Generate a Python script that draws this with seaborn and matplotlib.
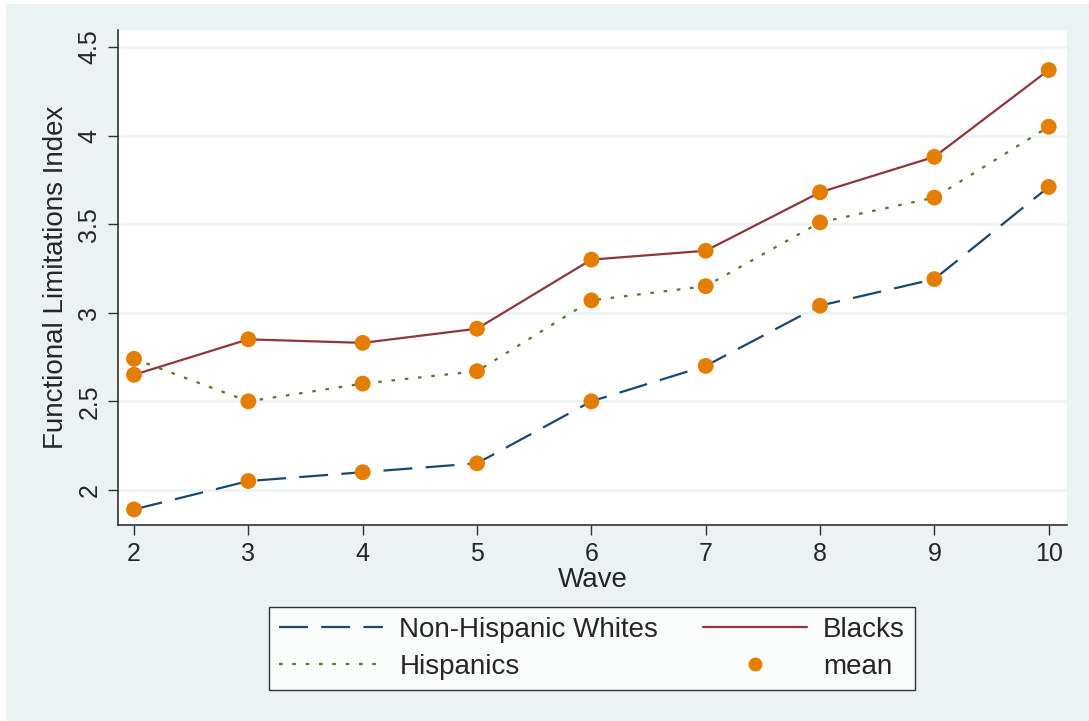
import pandas as pd
import seaborn as sns
import matplotlib.pyplot as plt
from matplotlib.lines import Line2D
from matplotlib.patches import Rectangle

# data
waves = [2, 3, 4, 5, 6, 7, 8, 9, 10]
whites = [1.89, 2.05, 2.10, 2.15, 2.50, 2.70, 3.04, 3.19, 3.71]
blacks = [2.65, 2.85, 2.83, 2.91, 3.30, 3.35, 3.68, 3.88, 4.37]
hispanics = [2.74, 2.50, 2.60, 2.67, 3.07, 3.15, 3.51, 3.65, 4.05]
groups = ["Non-Hispanic Whites", "Blacks", "Hispanics"]

df = pd.DataFrame({
    "Wave": waves * 3,
    "mean": whites + blacks + hispanics,
    "group": [g for g in groups for _ in waves],
})

navy = "#1a476f"
maroon = "#90353b"
green = "#55752f"
orange = "#e37e00"
bg = "#eaf2f3"

sns.set_style("white")
plt.rcParams['font.family'] = ['Liberation Sans', 'DejaVu Sans']

fig = plt.figure(figsize=(10.89, 7.21), dpi=100, facecolor="white")
fig.patches.append(Rectangle((6 / 1089, 0), 1, 717 / 721, transform=fig.transFigure,
                             facecolor=bg, edgecolor="none", zorder=-10))
ax = fig.add_axes([118 / 1089, 196 / 721, 949 / 1089, 495 / 721])
ax.set_facecolor("white")

palette = {"Non-Hispanic Whites": navy, "Blacks": maroon, "Hispanics": green}
dashes = {"Non-Hispanic Whites": (13, 6), "Blacks": "", "Hispanics": (1.6, 4.4)}
sns.lineplot(data=df, x="Wave", y="mean", hue="group", style="group",
             palette=palette, dashes=dashes, linewidth=1.6, ax=ax, legend=False,
             zorder=3)
sns.scatterplot(data=df, x="Wave", y="mean", color=orange, s=130,
                edgecolor="none", ax=ax, legend=False, zorder=4)

ax.set_xlim(1.86, 10.16)
ax.set_ylim(1.802, 4.596)
ax.set_xticks(waves)
ax.set_yticks([2, 2.5, 3, 3.5, 4, 4.5])
ax.set_yticklabels(["2", "2.5", "3", "3.5", "4", "4.5"], rotation=90, va="center")
ax.grid(axis="y", color=bg, linewidth=1.8, zorder=0)
ax.tick_params(axis="both", direction="out", length=7, width=1, color="#333333",
               labelsize=18, pad=5, left=True, bottom=True)
for side in ["top", "right"]:
    ax.spines[side].set_visible(False)
for side in ["left", "bottom"]:
    ax.spines[side].set_color("#333333")
    ax.spines[side].set_linewidth(1.2)
ax.set_xlabel("Wave", fontsize=20, labelpad=1)
ax.set_ylabel("Functional Limitations Index", fontsize=20, labelpad=6)

handles = [
    Line2D([], [], color=navy, lw=1.6, dashes=(13, 6)),
    Line2D([], [], color=green, lw=1.6, dashes=(1.6, 4.4)),
    Line2D([], [], color=maroon, lw=1.6),
    Line2D([], [], color=orange, marker="o", markersize=10, linestyle="none",
           markeredgecolor="none"),
]
labels = ["Non-Hispanic Whites", "Hispanics", "Blacks", "mean"]
leg = fig.legend(handles, labels, ncol=2, loc="center",
                 bbox_to_anchor=(592 / 1089, (721 - 648.5) / 721),
                 fontsize=20, frameon=True, fancybox=False, edgecolor="black",
                 handlelength=3.75, handletextpad=0.58, columnspacing=1.6,
                 labelspacing=0.4, borderpad=0.35)
leg.get_frame().set_linewidth(1.0)
leg.get_frame().set_facecolor("white")

fig.savefig("out.png", dpi=100, facecolor="white")
